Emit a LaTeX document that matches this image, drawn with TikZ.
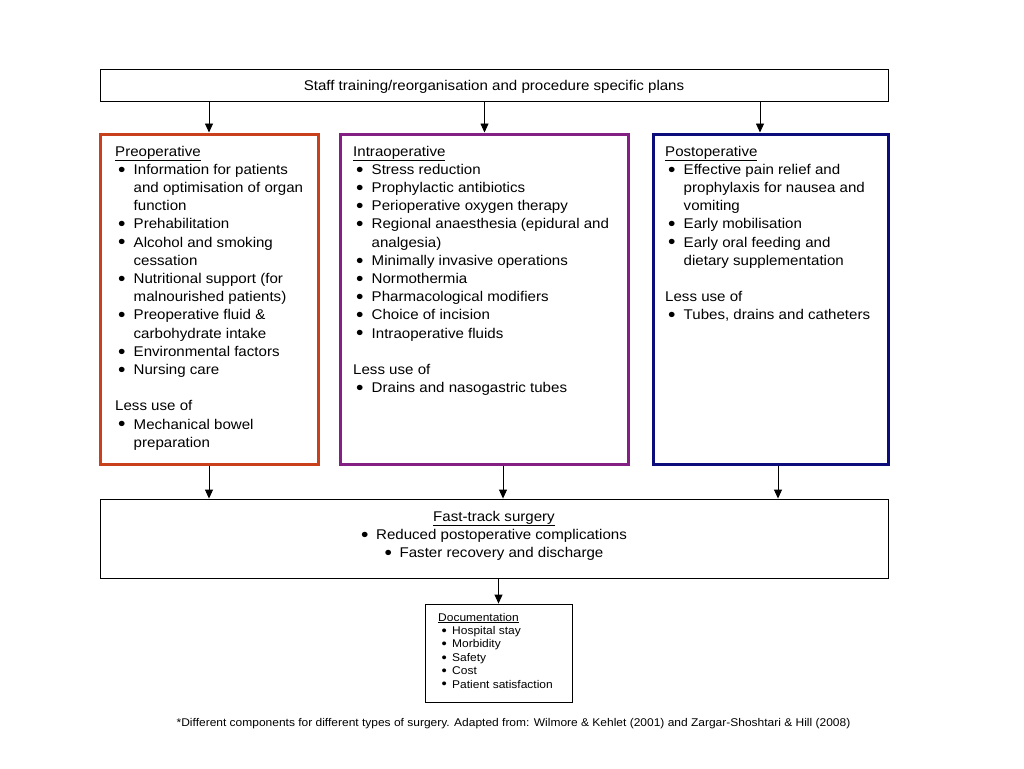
\documentclass[tikz,border=0pt]{standalone}
\usepackage{fontspec}
\setmainfont[FakeStretch=1.07]{Liberation Sans}
\usetikzlibrary{arrows.meta}
\definecolor{preC}{RGB}{200,64,28}
\definecolor{intraC}{RGB}{132,32,132}
\definecolor{postC}{RGB}{12,12,122}
\newcommand\bigbul{\raisebox{-0.13em}{\scalebox{1.4}{•}}}
\newcommand\smbul{\raisebox{-0.08em}{\scalebox{1.25}{•}}}
\newcommand\bitem[1]{\hspace*{3pt}\makebox[15.5pt][l]{\bigbul}#1}
\newcommand\citem[1]{\hspace*{18.5pt}#1}
\newcommand\ditem[1]{\hspace*{3.5pt}\makebox[10.5pt][l]{\smbul}#1}
\begin{document}
\begin{tikzpicture}[x=1pt,y=-1pt,
  bbox/.style={draw=black,line width=0.9pt,inner sep=0pt,fill=white},
  cbox/.style={line width=3pt,inner sep=0pt,fill=white},
  arr/.style={draw=black,line width=0.9pt,-{Triangle[length=9pt,width=8pt]}},
  btext/.style={anchor=base west,inner sep=0pt,font=\fontsize{14.1}{18.2}\selectfont},
  dtext/.style={anchor=base west,inner sep=0pt,font=\fontsize{11.2}{13.4}\selectfont}]
\useasboundingbox[fill=white] (0,0) rectangle (1024,768);

% boxes
\node[bbox,minimum width=788pt,minimum height=32pt] (top) at (494,85) {};
\node[cbox,draw=preC,minimum width=218pt,minimum height=330pt] (pre) at (209,299) {};
\node[cbox,draw=intraC,minimum width=288pt,minimum height=330pt] (intra) at (484.5,299) {};
\node[cbox,draw=postC,minimum width=235pt,minimum height=330pt] (post) at (771,299) {};
\node[bbox,minimum width=788pt,minimum height=79pt] (fast) at (494,538.5) {};
\node[bbox,minimum width=147pt,minimum height=98pt] (doc) at (498.5,653) {};

% texts
\node[anchor=base,inner sep=0pt,font=\fontsize{14.1}{18.2}\selectfont] (toptext) at (494,90)
  {Staff training/reorganisation and procedure specific plans};

\node[btext] (pretext) at (115,156) {\parbox[t]{240pt}{\raggedright
\underline{Preoperative}\\
\bitem{Information for patients}\\
\citem{and optimisation of organ}\\
\citem{function}\\
\bitem{Prehabilitation}\\
\bitem{Alcohol and smoking}\\
\citem{cessation}\\
\bitem{Nutritional support (for}\\
\citem{malnourished patients)}\\
\bitem{Preoperative fluid \&}\\
\citem{carbohydrate intake}\\
\bitem{Environmental factors}\\
\bitem{Nursing care}\\
\mbox{}\\
Less use of\\
\bitem{Mechanical bowel}\\
\citem{preparation}}};

\node[btext] (intratext) at (353,156) {\parbox[t]{280pt}{\raggedright
\underline{Intraoperative}\\
\bitem{Stress reduction}\\
\bitem{Prophylactic antibiotics}\\
\bitem{Perioperative oxygen therapy}\\
\bitem{Regional anaesthesia (epidural and}\\
\citem{analgesia)}\\
\bitem{Minimally invasive operations}\\
\bitem{Normothermia}\\
\bitem{Pharmacological modifiers}\\
\bitem{Choice of incision}\\
\bitem{Intraoperative fluids}\\
\mbox{}\\
Less use of\\
\bitem{Drains and nasogastric tubes}}};

\node[btext] (posttext) at (665,156) {\parbox[t]{240pt}{\raggedright
\underline{Postoperative}\\
\bitem{Effective pain relief and}\\
\citem{prophylaxis for nausea and}\\
\citem{vomiting}\\
\bitem{Early mobilisation}\\
\bitem{Early oral feeding and}\\
\citem{dietary supplementation}\\
\mbox{}\\
Less use of\\
\bitem{Tubes, drains and catheters}}};

\node[anchor=base,inner sep=0pt,font=\fontsize{14.1}{18.2}\selectfont] (fasttext) at (494,521)
  {\parbox[t]{500pt}{\centering
\underline{Fast-track surgery}\\
\makebox[15pt][l]{\bigbul}Reduced postoperative complications\\
\makebox[15pt][l]{\bigbul}Faster recovery and discharge}};

\node[dtext] (doctext) at (438,621) {\parbox[t]{140pt}{\raggedright
\underline{Documentation}\\
\ditem{Hospital stay}\\
\ditem{Morbidity}\\
\ditem{Safety}\\
\ditem{Cost}\\
\ditem{Patient satisfaction}}};

\node[anchor=base,inner sep=0pt,font=\fontsize{11.2}{13.4}\selectfont] (foot) at (513.5,726)
  {*Different components for different types of surgery. Adapted from: Wilmore \& Kehlet (2001) and Zargar-Shoshtari \& Hill (2008)};

% connectors
\draw[arr] (pre.north |- top.south) -- (pre.north);
\draw[arr] (intra.north |- top.south) -- (intra.north);
\draw[arr] ([xshift=-11pt]post.north |- top.south) -- ([xshift=-11pt]post.north);
\draw[arr] (pre.south) -- (pre.south |- fast.north);
\draw[arr] ([xshift=18.5pt]intra.south) -- ([xshift=18.5pt]intra.south |- fast.north);
\draw[arr] ([xshift=7pt]post.south) -- ([xshift=7pt]post.south |- fast.north);
\draw[arr] (fast.south -| doc.north) -- (doc.north);
\end{tikzpicture}
\end{document}
